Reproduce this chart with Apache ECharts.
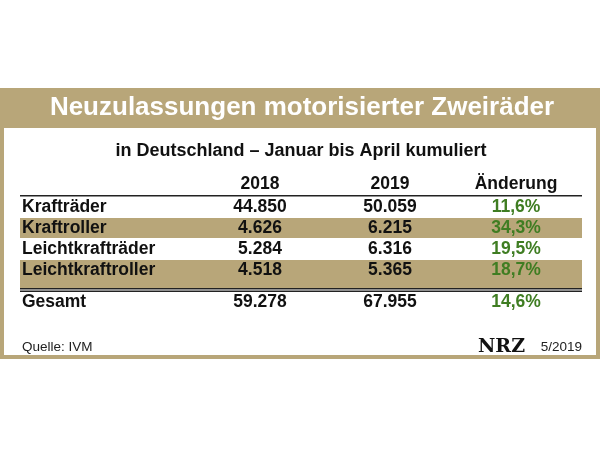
<!DOCTYPE html>
<html>
<head>
<meta charset="utf-8">
<style>html,body{margin:0;padding:0;background:#fff}#c{width:600px;height:450px}</style>
<script src="https://cdn.jsdelivr.net/npm/echarts@6/dist/echarts.min.js"></script>
</head>
<body>
<div id="c"></div>
<script>
var title = 'Neuzulassungen motorisierter Zweiräder';
var subtitle = 'in Deutschland – Januar bis April kumuliert';
var headers = ['2018', '2019', 'Änderung'];
var rows = ['Krafträder', 'Kraftroller', 'Leichtkrafträder', 'Leichtkraftroller'];
var v2018 = ['44.850', '4.626', '5.284', '4.518'];
var v2019 = ['50.059', '6.215', '6.316', '5.365'];
var change = ['11,6%', '34,3%', '19,5%', '18,7%'];
var total = ['Gesamt', '59.278', '67.955', '14,6%'];

var tan = '#b8a679', green = '#3f7d22', font = 'Liberation Sans, Arial, sans-serif';
var bold = 'bold 17.5px ' + font;
var colX = [260, 390, 516];
var g = [];
// frame
g.push({type:'rect', shape:{x:0, y:88, width:600, height:271}, style:{fill:tan}});
g.push({type:'rect', shape:{x:4, y:128, width:592, height:227}, style:{fill:'#fff'}});
g.push({type:'text', x:302, y:108, style:{text:title, fill:'#fff', font:'bold 26px '+font, textAlign:'center', textVerticalAlign:'middle'}});
g.push({type:'text', x:301, y:151, style:{text:subtitle, fill:'#111', font:'bold 18px '+font, textAlign:'center', textVerticalAlign:'middle'}});
headers.forEach(function(h, i){
  g.push({type:'text', x:colX[i], y:184, style:{text:h, fill:'#111', font:bold, textAlign:'center', textVerticalAlign:'middle'}});
});
g.push({type:'rect', shape:{x:20, y:195, width:562, height:1.5}, style:{fill:'#222'}});
rows.forEach(function(r, i){
  var y = 207 + i*21;
  if (i % 2 === 1) {
    g.push({type:'rect', shape:{x:20, y:y-10, width:562, height:20}, style:{fill:tan}});
  }
  g.push({type:'text', x:22, y:y, style:{text:r, fill:'#111', font:bold, textVerticalAlign:'middle'}});
  [v2018[i], v2019[i]].forEach(function(v, j){
    g.push({type:'text', x:colX[j], y:y, style:{text:v, fill:'#111', font:bold, textAlign:'center', textVerticalAlign:'middle'}});
  });
  g.push({type:'text', x:colX[2], y:y, style:{text:change[i], fill:green, font:bold, textAlign:'center', textVerticalAlign:'middle'}});
});
g.push({type:'rect', shape:{x:20, y:280, width:562, height:8}, style:{fill:tan}});
g.push({type:'rect', shape:{x:20, y:288, width:562, height:1.5}, style:{fill:'#222'}});
g.push({type:'rect', shape:{x:20, y:290.5, width:562, height:1.5}, style:{fill:'#222'}});
g.push({type:'text', x:22, y:302, style:{text:total[0], fill:'#111', font:bold, textVerticalAlign:'middle'}});
total.slice(1).forEach(function(v, j){
  g.push({type:'text', x:colX[j], y:302, style:{text:v, fill:j===2?green:'#111', font:bold, textAlign:'center', textVerticalAlign:'middle'}});
});
g.push({type:'text', x:22, y:347, style:{text:'Quelle: IVM', fill:'#222', font:'13.5px '+font, textVerticalAlign:'middle'}});
g.push({type:'text', x:525, y:347, style:{text:'NRZ', fill:'#111', font:'bold 19px "DejaVu Serif", serif', textAlign:'right', textVerticalAlign:'middle'}});
g.push({type:'text', x:582, y:347, style:{text:'5/2019', fill:'#222', font:'13.5px '+font, textAlign:'right', textVerticalAlign:'middle'}});

var chart = echarts.init(document.getElementById('c'));
chart.setOption({animation:false, graphic:g});
</script>
</body>
</html>
